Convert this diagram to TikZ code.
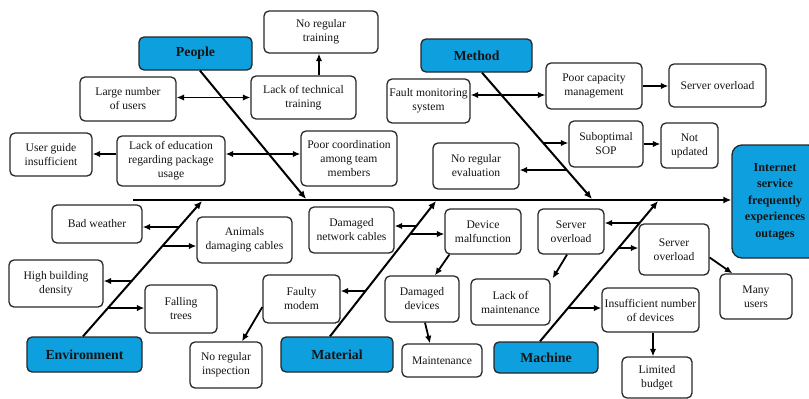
\documentclass[tikz,border=0pt]{standalone}
\usepackage{fontspec}
\setmainfont{Liberation Serif}
\usetikzlibrary{arrows.meta,calc}
\definecolor{catblue}{RGB}{14,160,222}
\definecolor{edge}{RGB}{40,40,40}
\definecolor{ink}{RGB}{20,20,20}
\tikzset{
  box/.style={draw=edge, line width=1.3pt, rounded corners=5pt, fill=white,
    align=center, inner sep=1pt, text=ink, font=\fontsize{11.6}{14}\selectfont},
  cat/.style={draw=black!85, line width=1.3pt, rounded corners=5pt, fill=catblue,
    align=center, inner sep=1pt, text=ink, font=\fontsize{13.8}{16}\selectfont\bfseries},
  effect/.style={cat, rounded corners=10pt, font=\fontsize{12.2}{16.5}\selectfont\bfseries},
  spine/.style={line width=2pt, -{Latex[length=8pt,width=7pt]}},
  arr/.style={line width=1.8pt, -{Latex[length=7.5pt,width=6.5pt]}},
  darr/.style={line width=1.8pt, {Latex[length=7.5pt,width=6.5pt]}-{Latex[length=7.5pt,width=6.5pt]}},
}
% style, name, left, top, right, bottom, text
\newcommand\mkbox[7]{%
  \node[#1, minimum width={(#5)-(#3)}, minimum height={(#6)-(#4)}] (#2)
    at ({((#3)+(#5))/2},{((#4)+(#6))/2}) {#7};}
% point of a spine at a given height
\newcommand\spinept[4]{\coordinate (#4) at (intersection of #1--#2 and 0,#3--10,#3);}

\begin{document}
\begin{tikzpicture}[x=1pt,y=-1pt]
\useasboundingbox (0,0) rectangle (809,399);
\begin{scope}
\clip (0,0) rectangle (809,399);

% categories and effect
\mkbox{cat}{People}{139}{37}{252}{70}{People}
\mkbox{cat}{Method}{421}{39}{532}{72}{Method}
\mkbox{cat}{Environment}{27}{337}{142}{372}{Environment}
\mkbox{cat}{Material}{281}{337}{393}{372}{Material}
\mkbox{cat}{Machine}{494}{342}{598}{373}{Machine}
\mkbox{effect}{internet}{732}{145}{818}{258}{Internet\\service\\frequently\\experiences\\outages}

% people causes
\mkbox{box}{noTrain}{264}{11}{378}{53}{No regular\\training}
\mkbox{box}{largeUsers}{80}{77}{176}{121}{Large number\\of users}
\mkbox{box}{lackTech}{251}{76}{356}{119}{Lack of technical\\training}
\mkbox{box}{userGuide}{10}{133}{92}{176}{User guide\\insufficient}
\mkbox{box}{lackEdu}{117}{136}{225}{186}{Lack of education\\regarding package\\usage}
\mkbox{box}{poorCoord}{301}{131}{397}{186}{Poor coordination\\among team\\members}

% method causes
\mkbox{box}{fault}{387}{79}{470}{123}{Fault monitoring\\system}
\mkbox{box}{poorCap}{546}{63}{642}{109}{Poor capacity\\management}
\mkbox{box}{serverTop}{669}{64}{766}{107}{Server overload}
\mkbox{box}{subopt}{569}{121}{643}{167}{Suboptimal\\SOP}
\mkbox{box}{notUpd}{661}{123}{718}{168}{Not\\updated}
\mkbox{box}{noEval}{433}{143}{519}{189}{No regular\\evaluation}

% environment causes
\mkbox{box}{badWeather}{52}{205}{142}{243}{Bad weather}
\mkbox{box}{animals}{197}{217}{292}{263}{Animals\\damaging cables}
\mkbox{box}{highBuild}{9}{260}{103}{307}{High building\\density}
\mkbox{box}{falling}{145}{285}{217}{333}{Falling\\trees}

% material causes
\mkbox{box}{damagedNet}{309}{207}{394}{253}{Damaged\\network cables}
\mkbox{box}{faultyModem}{263}{275}{340}{323}{Faulty\\modem}
\mkbox{box}{noInspect}{190}{342}{262}{388}{No regular\\inspection}
\mkbox{box}{devMal}{445}{209}{521}{254}{Device\\malfunction}
\mkbox{box}{damagedDev}{385}{276}{459}{322}{Damaged\\devices}
\mkbox{box}{maintenance}{402}{344}{482}{377}{Maintenance}

% machine causes
\mkbox{box}{lackMaint}{471}{279}{550}{325}{Lack of\\maintenance}
\mkbox{box}{serverA}{538}{209}{604}{254}{Server\\overload}
\mkbox{box}{serverB}{639}{224}{709}{275}{Server\\overload}
\mkbox{box}{manyUsers}{720}{274}{792}{319}{Many\\users}
\mkbox{box}{insufficient}{602}{288}{699}{332}{Insufficient number\\of devices}
\mkbox{box}{limited}{622}{357}{692}{398}{Limited\\budget}

% backbone
\coordinate (mainStart) at (133,200);
\draw[spine] (mainStart) -- (mainStart -| internet.west);

% spines
\coordinate (pS) at ([xshift=4.5]People.south);
\coordinate (pTip) at (306,199);
\coordinate (mS) at ([xshift=5.5]Method.south);
\coordinate (mTip) at (592,199);
\coordinate (eS) at ([xshift=-1.5]Environment.north);
\coordinate (eTip) at (202,201);
\coordinate (maS) at ([xshift=-7]Material.north);
\coordinate (maTip) at (436,201);
\coordinate (mcS) at ([xshift=-6]Machine.north);
\coordinate (mcTip) at (658,201);
\draw[spine] (pS) -- (pTip);
\draw[spine] (mS) -- (mTip);
\draw[spine] (eS) -- (eTip);
\draw[spine] (maS) -- (maTip);
\draw[spine] (mcS) -- (mcTip);

% people branches
\draw[darr] (largeUsers.east |- lackTech.west) -- (lackTech.west);
\draw[arr] ([xshift=15.5]lackTech.north) -- ([xshift=-2]noTrain.south);
\coordinate (yEdu) at (0,154);
\draw[darr] (lackEdu.east |- yEdu) -- (poorCoord.west |- yEdu);
\draw[arr] (lackEdu.west |- yEdu) -- (userGuide.east |- yEdu);

% method branches
\coordinate (yFault) at (0,95);
\draw[darr] (fault.east |- yFault) -- (poorCap.west |- yFault);
\draw[arr] (poorCap.east) -- (poorCap.east -| serverTop.west);
\spinept{mS}{mTip}{143}{ms1}
\spinept{mS}{mTip}{170}{ms2}
\draw[arr] (ms1) -- (ms1 -| subopt.west);
\draw[arr] (subopt.east) -- (subopt.east -| notUpd.west);
\draw[arr] (ms2) -- (ms2 -| noEval.east);

% environment branches
\spinept{eS}{eTip}{227}{es1}
\spinept{eS}{eTip}{246}{es2}
\spinept{eS}{eTip}{281}{es3}
\spinept{eS}{eTip}{308}{es4}
\draw[arr] (es1) -- (es1 -| badWeather.east);
\draw[arr] (es2) -- (es2 -| animals.west);
\draw[arr] (es3) -- (es3 -| highBuild.east);
\draw[arr] (es4) -- (es4 -| falling.west);

% material branches
\spinept{maS}{maTip}{226}{mas1}
\spinept{maS}{maTip}{234}{mas2}
\spinept{maS}{maTip}{291}{mas3}
\draw[arr] (mas1) -- (mas1 -| damagedNet.east);
\draw[arr] (mas2) -- (mas2 -| devMal.west);
\draw[arr] (mas3) -- (mas3 -| faultyModem.east);
\draw[arr] ([yshift=-8]faultyModem.west) -- ([xshift=16]noInspect.north);
\draw[arr] ([xshift=5]devMal.south west) -- ([xshift=13]damagedDev.north);
\draw[arr] ([xshift=3]damagedDev.south) -- ([xshift=-12]maintenance.north);

% machine branches
\spinept{mcS}{mcTip}{223}{mcs1}
\spinept{mcS}{mcTip}{248}{mcs2}
\spinept{mcS}{mcTip}{308}{mcs3}
\draw[arr] (mcs1) -- (mcs1 -| serverA.east);
\draw[arr] (mcs2) -- (mcs2 -| serverB.west);
\draw[arr] (mcs3) -- (mcs3 -| insufficient.west);
\draw[arr] ([xshift=-4]serverA.south) -- ([xshift=2]lackMaint.north east);
\draw[arr] ([yshift=-8]serverB.east) -- ([xshift=13]manyUsers.north west);
\draw[arr] ([xshift=2.5]insufficient.south) -- ([xshift=-4]limited.north);
\end{scope}
\end{tikzpicture}
\end{document}
